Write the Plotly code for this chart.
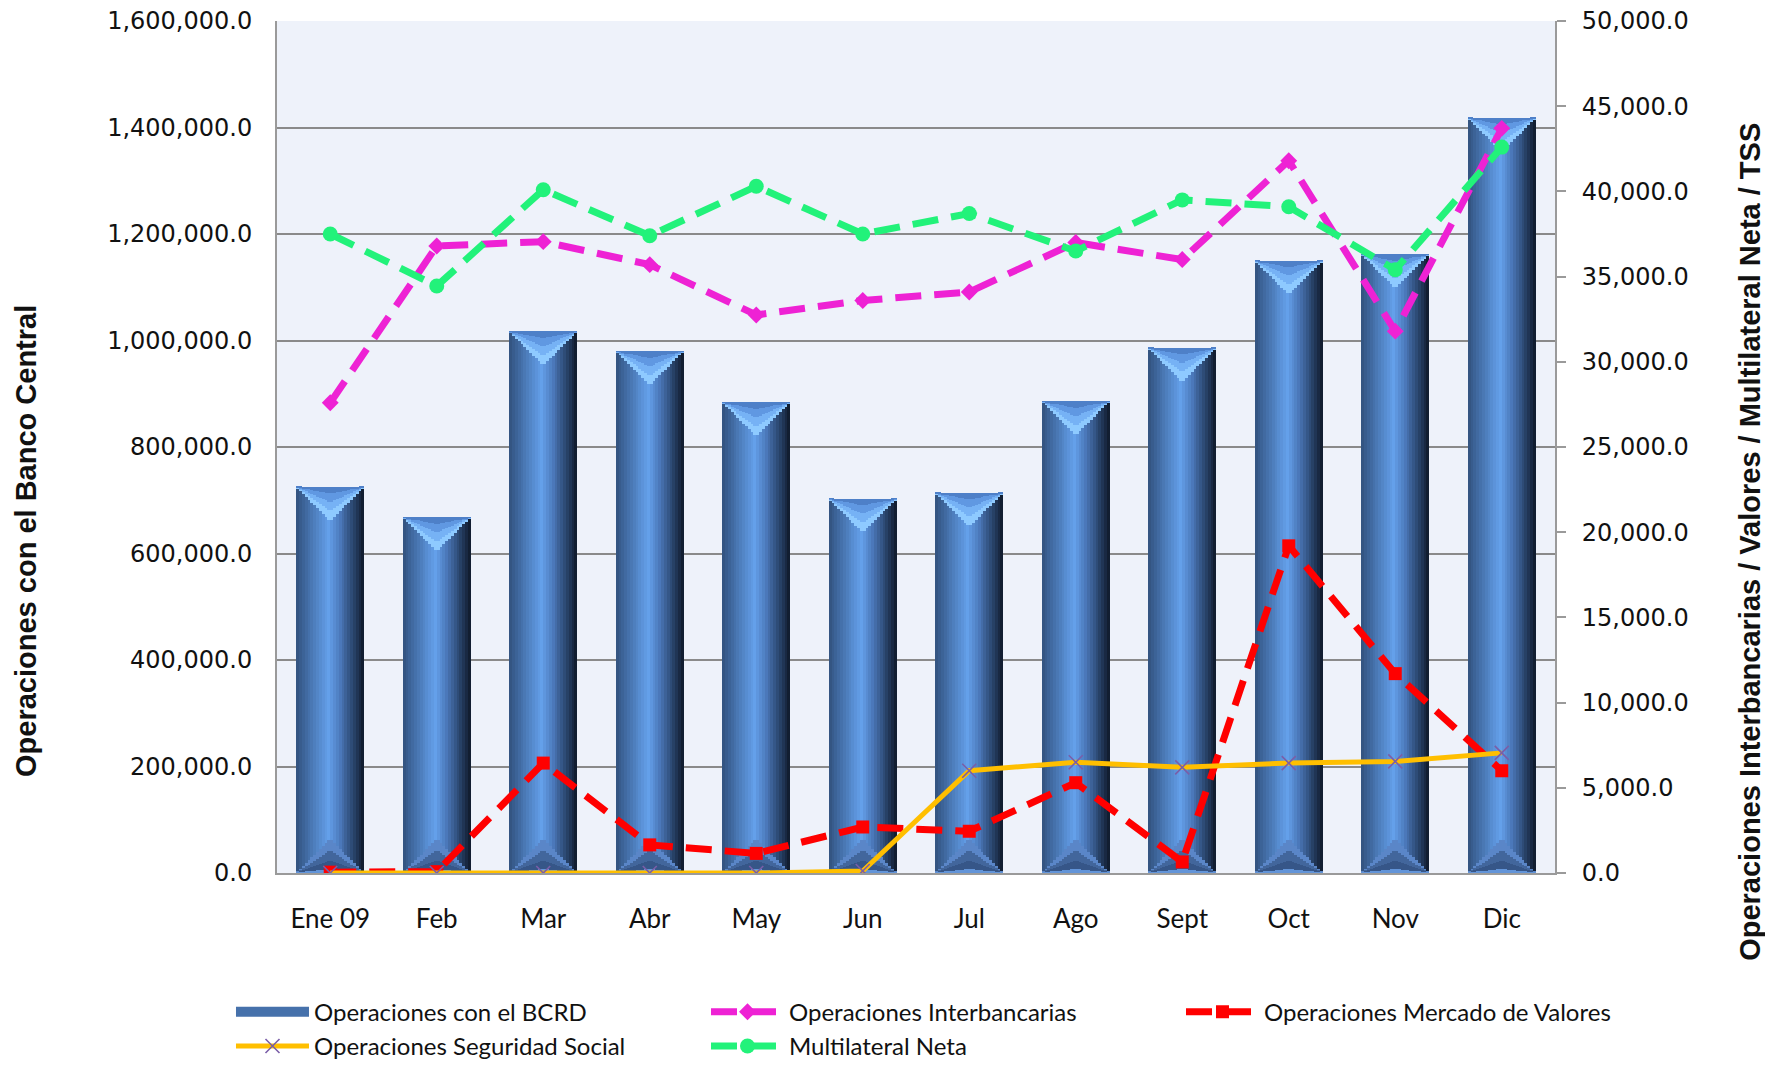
import plotly.graph_objects as go

months = ["Ene 09", "Feb", "Mar", "Abr", "May", "Jun", "Jul", "Ago", "Sept", "Oct", "Nov", "Dic"]

bcrd = [725000, 668000, 1017000, 980000, 884000, 703000, 714000, 886000, 986000, 1150000, 1162000, 1418000]
interbancarias = [27600, 36800, 37050, 35700, 32750, 33600, 34100, 37000, 36000, 41800, 31800, 43700]
mercado_valores = [50, 80, 6450, 1650, 1150, 2700, 2450, 5300, 650, 19200, 11700, 6000]
seguridad_social = [0, 0, 0, 0, 0, 120, 6000, 6500, 6200, 6450, 6550, 7050]
multilateral = [37500, 34450, 40100, 37400, 40300, 37500, 38700, 36500, 39500, 39100, 35400, 42600]

W, H = 1773, 1066
# page body has an 8px margin, so shift the plot box up/left to compensate
ML, MR, MT, MB = 269, 226, 13, 201
PW, PH = W - ML - MR, H - MT - MB
YMAX, Y2MAX = 1600000, 50000

BAR_W = 0.64
N = 24
px_to_units = YMAX / PH
bar_px = BAR_W * PW / len(months)

stops = [(0.0, (50, 82, 125)), (0.12, (62, 102, 155)), (0.38, (90, 145, 215)),
         (0.48, (100, 160, 234)), (0.64, (76, 122, 188)), (0.86, (38, 63, 100)), (1.0, (14, 24, 40))]


def grad(u):
    for (a, ca), (b, cb) in zip(stops[:-1], stops[1:]):
        if a <= u <= b:
            t = (u - a) / (b - a)
            return tuple(round(ca[k] + (cb[k] - ca[k]) * t) for k in range(3))
    return stops[-1][1]


def rgb(c):
    return "rgb(%d,%d,%d)" % c


fig = go.Figure()


def strip(y, base, off, wid, color):
    fig.add_trace(go.Bar(
        x=months, y=y, base=base, width=wid, offset=off,
        marker=dict(color=color, line_width=0), showlegend=False, hoverinfo="skip"))


# bars drawn as vertical strips to fake the bevelled 3D look
n = len(months)
for i in range(N):
    u = (i + 0.5) / N
    off = -BAR_W / 2 + i * BAR_W / N
    wid = BAR_W / N * 1.04
    depth = (0.5 - abs(u - 0.5)) * bar_px * px_to_units
    strip(bcrd, [0] * n, off, wid, rgb(grad(u)))
    # top chevron, lighter towards the tip
    for frac, c in [(1.0, "rgb(142,202,255)"), (0.72, "rgb(118,178,245)"),
                    (0.45, "rgb(96,152,226)"), (0.2, "rgb(78,128,200)")]:
        strip([depth * frac] * n, [v - depth * frac for v in bcrd], off, wid, c)
    # bottom pyramid
    for frac, c in [(1.0, "rgb(90,134,200)"), (0.66, "rgb(66,102,156)"),
                    (0.36, "rgb(54,86,136)"), (0.12, "rgb(98,148,216)")]:
        strip([depth * frac] * n, [0] * n, off, wid, c)

# legend entry for the bars (no visible mark)
fig.add_trace(go.Scatter(
    x=months, y=[None] * n, name="Operaciones con el BCRD", mode="lines",
    line=dict(color="#4671ab", width=10), legendrank=1))

fig.add_trace(go.Scatter(
    x=months, y=interbancarias, yaxis="y2", name="Operaciones Interbancarias", mode="lines+markers",
    line=dict(color="#ee22d4", width=7, dash="26px,13px"),
    marker=dict(symbol="diamond", size=13, color="#ee22d4"), legendrank=2))
fig.add_trace(go.Scatter(
    x=months, y=mercado_valores, yaxis="y2", name="Operaciones Mercado de Valores", mode="lines+markers",
    line=dict(color="#ff0000", width=7, dash="26px,13px"),
    marker=dict(symbol="square", size=13, color="#ff0000"), legendrank=3))
fig.add_trace(go.Scatter(
    x=months, y=seguridad_social, yaxis="y2", name="Operaciones Seguridad Social", mode="lines+markers",
    line=dict(color="#ffbf00", width=5),
    marker=dict(symbol="x-thin-open", size=14, color="#7a5ea8", line=dict(width=1.6, color="#7a5ea8")),
    legendrank=4))
fig.add_trace(go.Scatter(
    x=months, y=multilateral, yaxis="y2", name="Multilateral Neta", mode="lines+markers",
    line=dict(color="#22f27a", width=7, dash="26px,13px"),
    marker=dict(symbol="circle", size=15, color="#22f27a"), legendrank=5))

fig.update_layout(
    width=W, height=H,
    margin=dict(l=ML, r=MR, t=MT, b=MB, autoexpand=False),
    paper_bgcolor="white", plot_bgcolor="#eef2fa",
    barmode="overlay", bargap=0,
    showlegend=True,
    legend=dict(orientation="h", x=-0.036, xanchor="left", y=-0.137, yanchor="top",
                entrywidth=387, entrywidthmode="pixels", itemwidth=73,
                font=dict(family="Lato, Open Sans, sans-serif", size=24, color="#111"),
                bgcolor="rgba(0,0,0,0)"),
    xaxis=dict(type="category", range=[-0.5, n - 0.5], showgrid=False, showline=True,
               linecolor="#9a9a9a", linewidth=2, ticks="",
               tickfont=dict(family="Lato, Open Sans, sans-serif", size=26, color="#111"),
               ticklabelstandoff=22),
    yaxis=dict(range=[0, YMAX], dtick=200000, tickformat=",.1f", showgrid=True, gridcolor="#8a8a8a",
               gridwidth=2, showline=True, linecolor="#9a9a9a", linewidth=2, zeroline=False, ticks="",
               tickfont=dict(family="DejaVu Sans, Verdana, sans-serif", size=24, color="#111"),
               ticklabelstandoff=18, ticklabeloverflow="allow"),
    yaxis2=dict(range=[0, Y2MAX], dtick=5000, tickformat=",.1f", overlaying="y", side="right",
                showgrid=False, showline=True, linecolor="#9a9a9a", linewidth=2, zeroline=False,
                ticks="outside", ticklen=9, tickcolor="#9a9a9a", tickwidth=1.5,
                tickfont=dict(family="DejaVu Sans, Verdana, sans-serif", size=24, color="#111"),
                ticklabelstandoff=11, ticklabeloverflow="allow"),
    annotations=[
        dict(text="<b>Operaciones con el Banco Central</b>", textangle=-90, xref="paper", yref="paper",
             x=-0.197, y=0.39, xanchor="center", yanchor="middle", showarrow=False,
             font=dict(family="Liberation Sans, Arial, sans-serif", size=29, color="#111")),
        dict(text="<b>Operaciones Interbancarias / Valores / Multilateral Neta / TSS</b>", textangle=-90,
             xref="paper", yref="paper", x=1.152, y=0.389, xanchor="center", yanchor="middle",
             showarrow=False,
             font=dict(family="Liberation Sans, Arial, sans-serif", size=29, color="#111")),
    ],
)

fig.write_html("out.html")
